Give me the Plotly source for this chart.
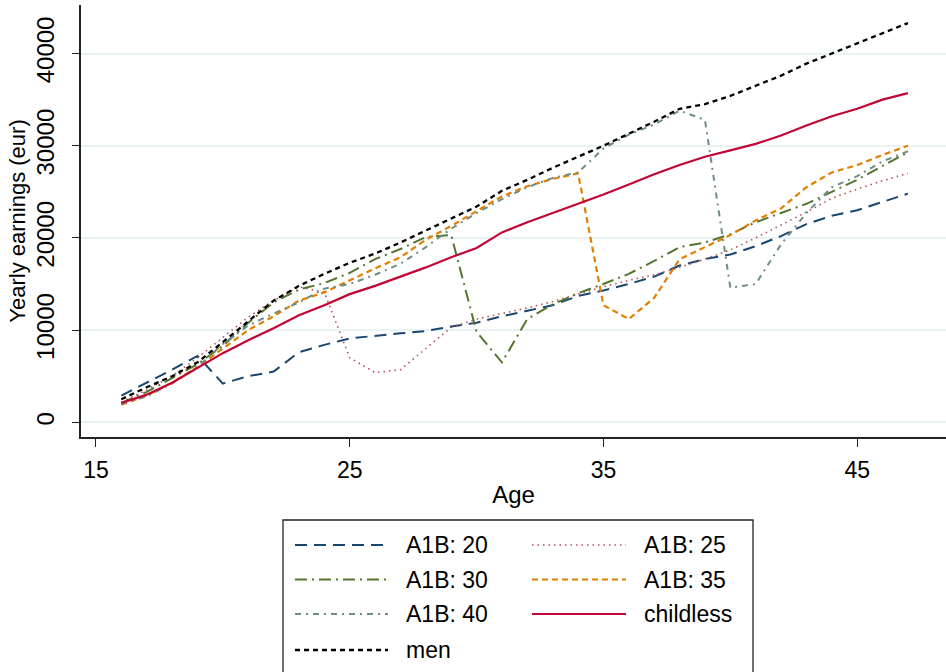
import plotly.graph_objects as go

ages = list(range(16, 48))

a1b_20 = [2900, 4300, 5700, 7200, 4200, 5000, 5500, 7600, 8400, 9100, 9400, 9650,
          9900, 10400, 10800, 11500, 12100, 12700, 13700, 14300, 15000, 15800, 17000,
          17700, 18200, 19100, 20200, 21500, 22400, 23000, 23900, 24800]
a1b_25 = [2200, 3500, 5000, 7000, 9200, 11400, 13200, 14700, 14100, 7000, 5400, 5700,
          8000, 10300, 11200, 11800, 12400, 13100, 13900, 14700, 15400, 16000, 16800,
          17700, 18700, 20000, 21400, 22800, 24300, 25300, 26200, 27000]
a1b_30 = [2100, 3300, 4800, 6300, 8300, 10800, 13000, 14400, 15100, 16200, 17700, 18800,
          20100, 20300, 9800, 6500, 11200, 12800, 14000, 15000, 16100, 17500, 19000,
          19500, 20400, 21700, 22700, 23700, 25000, 26300, 27800, 29300]
a1b_35 = [1900, 2900, 4300, 6000, 8000, 10000, 11500, 13200, 14100, 15400, 16700, 17900,
          19800, 21300, 22900, 24500, 25600, 26400, 27000, 12700, 11200, 13500, 17700,
          19000, 20300, 21900, 23200, 25500, 27100, 27900, 29000, 30000]
a1b_40 = [2000, 2800, 4200, 6000, 8500, 10500, 11800, 13000, 14500, 15000, 16000, 17200,
          19000, 21000, 22700, 24200, 25500, 26500, 27100, 29700, 31200, 32300, 33800,
          32800, 14600, 15000, 19300, 22700, 25500, 26700, 28300, 29400]
childless = [2100, 3000, 4300, 5900, 7500, 8900, 10200, 11600, 12700, 13900, 14800, 15800,
             16800, 17900, 18900, 20600, 21700, 22700, 23700, 24700, 25800, 26900, 27900,
             28800, 29500, 30200, 31100, 32200, 33200, 34000, 35000, 35700]
men = [2500, 3800, 5000, 6500, 8700, 11000, 13200, 14800, 16100, 17300, 18300, 19500,
       20800, 22100, 23400, 25100, 26300, 27600, 28800, 30000, 31300, 32600, 34000,
       34500, 35400, 36500, 37600, 38900, 40000, 41100, 42200, 43300]

series_names = ["A1B: 20", "A1B: 25", "A1B: 30", "A1B: 35", "A1B: 40", "childless", "men"]
series_vals = [a1b_20, a1b_25, a1b_30, a1b_35, a1b_40, childless, men]

x_ticks = [15, 25, 35, 45]
y_ticks = [0, 10000, 20000, 30000, 40000]

styles = [
    dict(color="#1a476f", width=2, dash="12px,7px"),
    dict(color="#b5505a", width=1.6, dash="1.5px,4px"),
    dict(color="#55752f", width=2, dash="12px,5px,2px,5px"),
    dict(color="#e37e00", width=2.2, dash="6px,4px"),
    dict(color="#6e8e84", width=2, dash="6px,5px,2px,5px"),
    dict(color="#c10534", width=2.2),
    dict(color="#000000", width=2.3, dash="5px,4px"),
]

fig = go.Figure()
for name, vals, st in zip(series_names, series_vals, styles):
    fig.add_trace(go.Scatter(x=ages, y=vals, mode="lines", name=name, line=st,
                             showlegend=False))

# ---- legend box (drawn in paper coordinates) ----
L, W, T, H = 81, 865, 5, 432


def px(xp):
    return (xp - L) / W


def py(yp):
    return (T + H - yp) / H


shapes = [dict(type="rect", xref="paper", yref="paper",
               x0=px(283), x1=px(753), y0=py(520), y1=py(700),
               line=dict(color="#222222", width=1.3), fillcolor="white", layer="above")]
annotations = []
row_y = [545, 579.5, 614, 650]
col_line = [(295, 388, 404), (532, 626, 642)]
for i, (name, st) in enumerate(zip(series_names, styles)):
    r, c = divmod(i, 2)
    x0, x1, xt = col_line[c]
    ln = dict(color=st["color"], width=st["width"])
    if "dash" in st:
        ln["dash"] = st["dash"]
    shapes.append(dict(type="line", xref="paper", yref="paper",
                       x0=px(x0), x1=px(x1), y0=py(row_y[r]), y1=py(row_y[r]),
                       line=ln, layer="above"))
    annotations.append(dict(xref="paper", yref="paper", x=px(xt), y=py(row_y[r]),
                            xanchor="left", yanchor="middle", text=name, showarrow=False,
                            font=dict(family="Liberation Sans, Arial, sans-serif",
                                      size=23, color="black")))

fig.update_layout(
    width=946, height=672,
    margin=dict(l=L, r=0, t=T, b=672 - T - H),
    paper_bgcolor="white", plot_bgcolor="white",
    font=dict(family="Liberation Sans, Arial, sans-serif", color="black", size=19),
    showlegend=False,
    shapes=shapes,
    annotations=annotations,
)
fig.update_xaxes(
    range=[14.41, 48.5], tickvals=x_ticks, ticktext=[str(v) for v in x_ticks],
    ticks="outside", ticklen=8, tickwidth=1.3, tickcolor="#222222",
    showline=True, linecolor="#222222", linewidth=1.6, showgrid=False, zeroline=False,
    tickfont=dict(size=23), ticklabelstandoff=4, automargin=False,
    title=dict(text="Age", font=dict(size=24), standoff=4),
)
fig.update_yaxes(
    range=[-1594, 45260], tickvals=y_ticks, ticktext=[str(v) for v in y_ticks],
    ticks="outside", ticklen=7, tickwidth=1.3, tickcolor="#222222",
    showline=True, linecolor="#222222", linewidth=1.6, showgrid=True, gridcolor="#eaf2f3",
    gridwidth=2, zeroline=False, tickangle=-90, tickfont=dict(size=24),
    ticklabelstandoff=9, automargin=False,
    title=dict(text="Yearly earnings (eur)", font=dict(size=22), standoff=0),
)

fig.write_html("out.html")
